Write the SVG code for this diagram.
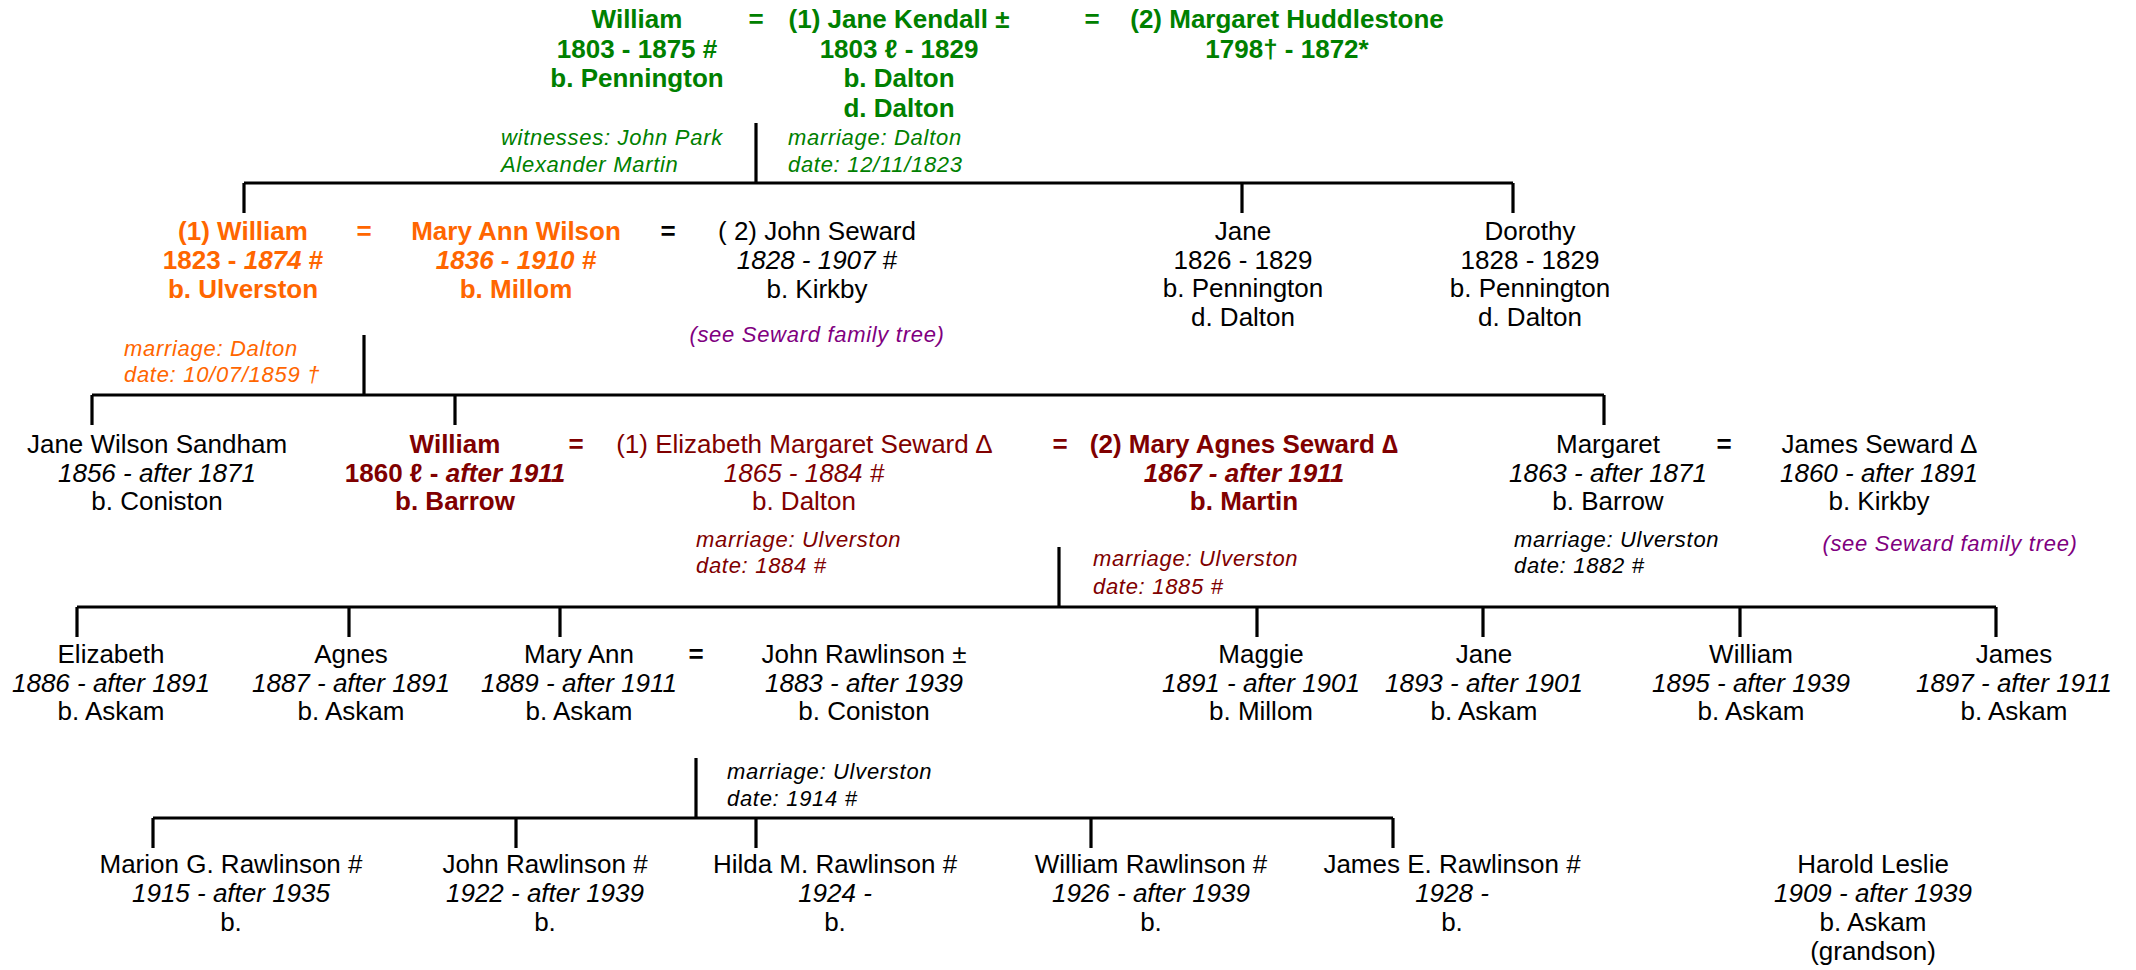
<svg xmlns="http://www.w3.org/2000/svg" width="2136" height="970" viewBox="0 0 2136 970">
<style>
text{font-family:"Liberation Sans",Arial,sans-serif;font-size:26px;text-anchor:middle}
.b{font-weight:bold}
.i{font-style:italic}
.u{font-style:normal}
.a{font-size:22px;letter-spacing:0.7px;font-style:italic;text-anchor:start}
.g{fill:#008000}.o{fill:#FF6600}.r{fill:#800000}.p{fill:#800080}.k{fill:#000}
.pl{font-size:22px;letter-spacing:0.7px;font-style:italic}
#connectors path{stroke:#000;stroke-width:3.2;fill:none}
</style>
<rect width="2136" height="970" fill="#fff"/>
<g id="connectors">
<path d="M756,123V183M244,183H1513M244,183V213M1242,183V213M1513,183V213"/>
<path d="M364,335V395M92,395H1604M92,395V425M455,395V425M1604,395V425"/>
<path d="M1059,547V607M77,607H1996M77,607V637M349,607V637M560,607V637M1257,607V637M1483,607V637M1740,607V637M1996,607V637"/>
<path d="M696,758V818M153,818H1393M153,818V848M516,818V848M756,818V848M1091,818V848M1393,818V848"/>
</g>
<!-- Row 1 -->
<g id="william1803">
<text x="637" y="28" class="g b">William</text>
<text x="637" y="57.5" class="g b">1803 - 1875 #</text>
<text x="637" y="87" class="g b">b. Pennington</text>
</g>
<g id="eq1"><text x="756" y="28" class="g b">=</text></g>
<g id="janekendall">
<text x="899" y="28" class="g b">(1) Jane Kendall ±</text>
<text x="899" y="57.5" class="g b">1803 ℓ - 1829</text>
<text x="899" y="87" class="g b">b. Dalton</text>
<text x="899" y="116.5" class="g b">d. Dalton</text>
</g>
<g id="eq2"><text x="1092" y="28" class="g b">=</text></g>
<g id="margarethuddlestone">
<text x="1287" y="28" class="g b">(2) Margaret Huddlestone</text>
<text x="1287" y="57.5" class="g b">1798† - 1872*</text>
</g>
<g id="marriage1">
<text x="501" y="145" class="a g">witnesses: John Park</text>
<text x="501" y="172" class="a g">Alexander Martin</text>
<text x="788" y="145" class="a g">marriage: Dalton</text>
<text x="788" y="172" class="a g">date: 12/11/1823</text>
</g>
<!-- Row 2 -->
<g id="william1823">
<text x="243" y="240" class="o b">(1) William</text>
<text x="243" y="269" class="o b">1823 - <tspan class="i">1874</tspan> #</text>
<text x="243" y="298" class="o b">b. Ulverston</text>
</g>
<g id="eq3"><text x="364" y="240" class="o b">=</text></g>
<g id="maryannwilson">
<text x="516" y="240" class="o b">Mary Ann Wilson</text>
<text x="516" y="269" class="o b i">1836 - 1910 #</text>
<text x="516" y="298" class="o b">b. Millom</text>
</g>
<g id="eq4"><text x="668" y="240" class="k b">=</text></g>
<g id="johnseward">
<text x="817" y="240" class="k">( 2) John Seward</text>
<text x="817" y="269" class="k i">1828 - 1907 <tspan class="u">#</tspan></text>
<text x="817" y="298" class="k">b. Kirkby</text>
<text x="817" y="342" class="p pl">(see Seward family tree)</text>
</g>
<g id="jane1826">
<text x="1243" y="240" class="k">Jane</text>
<text x="1243" y="268.5" class="k">1826 - 1829</text>
<text x="1243" y="297" class="k">b. Pennington</text>
<text x="1243" y="325.5" class="k">d. Dalton</text>
</g>
<g id="dorothy">
<text x="1530" y="240" class="k">Dorothy</text>
<text x="1530" y="268.5" class="k">1828 - 1829</text>
<text x="1530" y="297" class="k">b. Pennington</text>
<text x="1530" y="325.5" class="k">d. Dalton</text>
</g>
<g id="marriage2">
<text x="124" y="356" class="a o">marriage: Dalton</text>
<text x="124" y="382" class="a o">date: 10/07/1859  †</text>
</g>
<!-- Row 3 -->
<g id="janewilsonsandham">
<text x="157" y="453" class="k">Jane Wilson Sandham</text>
<text x="157" y="481.5" class="k i">1856 - after 1871</text>
<text x="157" y="510" class="k">b. Coniston</text>
</g>
<g id="william1860">
<text x="455" y="453" class="r b">William</text>
<text x="455" y="481.5" class="r b">1860 ℓ - <tspan class="i">after 1911</tspan></text>
<text x="455" y="510" class="r b">b. Barrow</text>
</g>
<g id="eq5"><text x="576" y="453" class="r b">=</text></g>
<g id="elizabethmargaret">
<text x="804" y="453" class="r">(1) Elizabeth Margaret Seward ∆</text>
<text x="804" y="481.5" class="r i">1865 - 1884 #</text>
<text x="804" y="510" class="r">b. Dalton</text>
</g>
<g id="eq6"><text x="1060" y="453" class="r b">=</text></g>
<g id="maryagnes">
<text x="1244" y="453" class="r b">(2) Mary Agnes Seward ∆</text>
<text x="1244" y="481.5" class="r b i">1867 - after 1911</text>
<text x="1244" y="510" class="r b">b. Martin</text>
</g>
<g id="margaret1863">
<text x="1608" y="453" class="k">Margaret</text>
<text x="1608" y="481.5" class="k i">1863 - after 1871</text>
<text x="1608" y="510" class="k">b. Barrow</text>
</g>
<g id="eq7"><text x="1724" y="453" class="k b">=</text></g>
<g id="jamesseward">
<text x="1879" y="453" class="k">James Seward ∆</text>
<text x="1879" y="481.5" class="k i">1860 - after 1891</text>
<text x="1879" y="510" class="k">b. Kirkby</text>
<text x="1950" y="551" class="p pl">(see Seward family tree)</text>
</g>
<g id="marriage3">
<text x="696" y="547" class="a r">marriage: Ulverston</text>
<text x="696" y="573" class="a r">date: 1884 #</text>
<text x="1093" y="566" class="a r">marriage: Ulverston</text>
<text x="1093" y="594" class="a r">date: 1885 #</text>
<text x="1514" y="547" class="a k">marriage: Ulverston</text>
<text x="1514" y="573" class="a k">date: 1882 #</text>
</g>
<!-- Row 4 -->
<g id="elizabeth1886">
<text x="111" y="663" class="k">Elizabeth</text>
<text x="111" y="691.5" class="k i">1886 - after 1891</text>
<text x="111" y="720" class="k">b. Askam</text>
</g>
<g id="agnes1887">
<text x="351" y="663" class="k">Agnes</text>
<text x="351" y="691.5" class="k i">1887 - after 1891</text>
<text x="351" y="720" class="k">b. Askam</text>
</g>
<g id="maryann1889">
<text x="579" y="663" class="k">Mary Ann</text>
<text x="579" y="691.5" class="k i">1889 - after 1911</text>
<text x="579" y="720" class="k">b. Askam</text>
</g>
<g id="eq8"><text x="696" y="663" class="k b">=</text></g>
<g id="johnrawlinson1883">
<text x="864" y="663" class="k">John Rawlinson ±</text>
<text x="864" y="691.5" class="k i">1883 - after 1939</text>
<text x="864" y="720" class="k">b. Coniston</text>
</g>
<g id="maggie1891">
<text x="1261" y="663" class="k">Maggie</text>
<text x="1261" y="691.5" class="k i">1891 - after 1901</text>
<text x="1261" y="720" class="k">b. Millom</text>
</g>
<g id="jane1893">
<text x="1484" y="663" class="k">Jane</text>
<text x="1484" y="691.5" class="k i">1893 - after 1901</text>
<text x="1484" y="720" class="k">b. Askam</text>
</g>
<g id="william1895">
<text x="1751" y="663" class="k">William</text>
<text x="1751" y="691.5" class="k i">1895 - after 1939</text>
<text x="1751" y="720" class="k">b. Askam</text>
</g>
<g id="james1897">
<text x="2014" y="663" class="k">James</text>
<text x="2014" y="691.5" class="k i">1897 - after 1911</text>
<text x="2014" y="720" class="k">b. Askam</text>
</g>
<g id="marriage4">
<text x="727" y="779" class="a k">marriage: Ulverston</text>
<text x="727" y="806" class="a k">date: 1914 #</text>
</g>
<!-- Row 5 -->
<g id="marion1915">
<text x="231" y="873" class="k">Marion G. Rawlinson #</text>
<text x="231" y="902" class="k i">1915 - after 1935</text>
<text x="231" y="931" class="k">b.</text>
</g>
<g id="john1922">
<text x="545" y="873" class="k">John Rawlinson #</text>
<text x="545" y="902" class="k i">1922 - after 1939</text>
<text x="545" y="931" class="k">b.</text>
</g>
<g id="hilda1924">
<text x="835" y="873" class="k">Hilda M. Rawlinson #</text>
<text x="835" y="902" class="k i">1924 -</text>
<text x="835" y="931" class="k">b.</text>
</g>
<g id="william1926">
<text x="1151" y="873" class="k">William Rawlinson #</text>
<text x="1151" y="902" class="k i">1926 - after 1939</text>
<text x="1151" y="931" class="k">b.</text>
</g>
<g id="james1928">
<text x="1452" y="873" class="k">James E. Rawlinson #</text>
<text x="1452" y="902" class="k i">1928 -</text>
<text x="1452" y="931" class="k">b.</text>
</g>
<g id="harold1909">
<text x="1873" y="873" class="k">Harold Leslie</text>
<text x="1873" y="902" class="k i">1909 - after 1939</text>
<text x="1873" y="931" class="k">b. Askam</text>
<text x="1873" y="960" class="k">(grandson)</text>
</g>
</svg>
